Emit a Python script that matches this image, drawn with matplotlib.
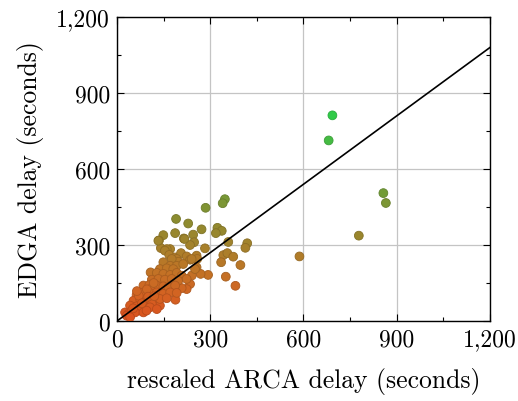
import numpy as np
import matplotlib
matplotlib.use('Agg')
from matplotlib import pyplot as plt
from matplotlib.ticker import FuncFormatter, MultipleLocator

plt.rcParams['font.family'] = 'cmr10'
plt.rcParams['mathtext.fontset'] = 'cm'
plt.rcParams['axes.unicode_minus'] = False

# rescaled ARCA delay (s) / EDGA delay (s)
arca = [
    693, 681, 857, 865, 778, 587,
    347, 340, 285, 190, 229, 272, 323, 337, 318, 187, 149, 135, 215, 245,
    248, 235, 358, 419, 413, 141, 171, 283, 342, 355, 374, 335, 397, 350,
    381, 293, 269, 241, 235, 224, 208, 188, 138, 133, 217, 160, 154, 168,
    187,
    206, 224, 192, 256, 258, 235, 197, 176, 149, 171, 192, 213, 240, 138,
    160, 181, 108, 128, 149, 171, 192, 208, 256, 251, 112, 133, 154, 176,
    197, 224, 85, 104, 128, 149, 165, 187, 106, 63, 85, 106, 128, 149,
    171, 192, 53, 74, 95, 117, 138, 160, 90, 112, 42, 63, 85, 106, 128,
    74, 26, 36, 47, 58, 31, 42, 85, 95,
    52, 70, 96, 118, 64, 80, 100, 120,
]
edga = [
    812, 713, 505, 466, 337, 255,
    481, 465, 447, 403, 385, 362, 368, 356, 347, 347, 339, 318, 326, 341,
    311, 300, 312, 307, 289, 288, 284, 287, 260, 268, 254, 232, 221, 175,
    139, 182, 186, 180, 146, 126, 130, 84, 61, 317, 324, 284, 278, 261,
    251,
    268, 255, 245, 258, 245, 242, 234, 245, 232, 218, 218, 225, 245, 205,
    208, 205, 192, 190, 186, 182, 190, 179, 212, 205, 163, 166, 163, 166,
    159, 166, 140, 142, 140, 137, 133, 140, 126, 103, 113, 111, 113, 107,
    113, 111, 80, 87, 87, 84, 87, 90, 74, 67, 61, 58, 61, 54, 47,
    41, 34, 28, 41, 34, 21, 15, 34, 41,
    50, 100, 125, 150, 118, 70, 96, 98,
]
SLOPE = 0.9
LIMITS = [0, 1200]

# colour keys (by EDGA delay)
key_y = [0, 100, 200, 300, 400, 500, 812]
key_rgb = [(220, 80, 30), (212, 98, 34), (192, 116, 38), (163, 130, 44),
           (140, 140, 48), (115, 155, 55), (48, 202, 72)]

x = np.array(arca, dtype=float)
y = np.array(edga, dtype=float)

krgb = np.array(key_rgb) / 255
colors = np.column_stack([np.interp(y, key_y, krgb[:, i]) for i in range(3)])
edges = colors * 0.85

fig = plt.figure(figsize=(5.18, 4.02), dpi=100)
ax = fig.add_axes([0.2259, 0.199, 0.72, 0.756])

ax.scatter(x, y, s=40, c=colors, edgecolors=edges, linewidths=0.6, zorder=3)
ax.plot(LIMITS, [v * SLOPE for v in LIMITS], color='black', linewidth=1.2, zorder=4)

ax.set_xlim(LIMITS)
ax.set_ylim(LIMITS)
ax.xaxis.set_major_locator(MultipleLocator(300))
ax.yaxis.set_major_locator(MultipleLocator(300))
ax.xaxis.set_minor_locator(MultipleLocator(150))
ax.yaxis.set_minor_locator(MultipleLocator(150))
fmt = FuncFormatter(lambda v, p: '{:,.0f}'.format(v))
ax.xaxis.set_major_formatter(fmt)
ax.yaxis.set_major_formatter(fmt)
ax.tick_params(which='both', direction='in', top=True, right=True, labelsize=17, width=0.8)
ax.tick_params(which='major', length=5, pad=5)
ax.tick_params(which='minor', length=3)
ax.grid(True, which='major', color='#c4c4c4', linewidth=0.9)
ax.set_axisbelow(True)
for s in ax.spines.values():
    s.set_linewidth(1.0)

ax.set_xlabel('rescaled ARCA delay (seconds)', fontsize=18.5, labelpad=12)
ax.set_ylabel('EDGA delay (seconds)', fontsize=18.5, labelpad=9)

fig.savefig('out.png', dpi=100)
